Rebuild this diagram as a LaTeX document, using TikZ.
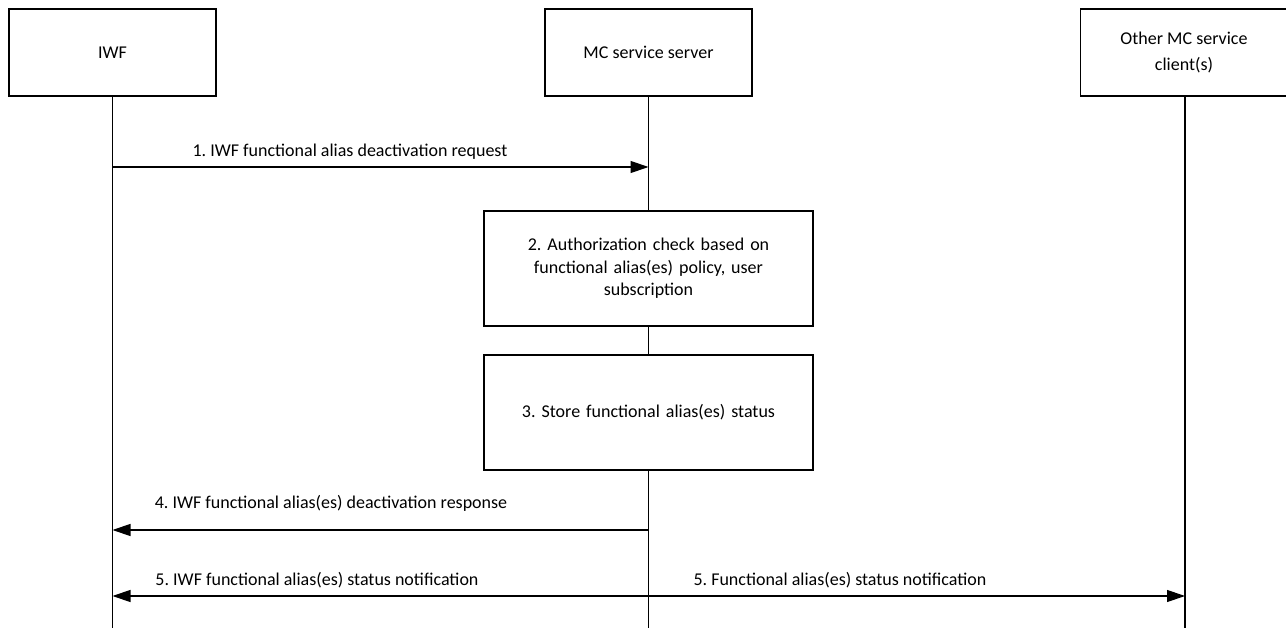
\documentclass[tikz,border=0pt]{standalone}
\usepackage{fontspec}
\setmainfont{Carlito}
\usetikzlibrary{arrows.meta}
\begin{document}
\frenchspacing
\begin{tikzpicture}[x=1pt,y=-1pt,
  every node/.style={font=\fontsize{18}{22.5}\selectfont},
  entity/.style={draw,line width=1.2pt,minimum width=207pt,minimum height=87pt,align=center,inner sep=0pt},
  actbox/.style={draw,line width=1.2pt,minimum width=329pt,minimum height=115pt,align=center,text width=310pt,inner sep=0pt},
  life/.style={line width=1.2pt},
  msg/.style={line width=1.2pt,-{Triangle[length=18pt,width=12pt]}},
  lbl/.style={inner sep=0pt,anchor=base}]
\useasboundingbox (0,0) rectangle (1286,628);
\node[entity] (iwf) at (112.5,52.5) {IWF};
\node[entity] (mcs) at (648.5,52.5) {MC service server};
\node[entity,font=\fontsize{18}{25.5}\selectfont] (oth) at (1184,52.5) {Other MC service\\client(s)};
\coordinate (iwfE) at (112.5,628);
\coordinate (mcsE) at (648.5,628);
\coordinate (othE) at (1185,628);
\node[actbox] (b2) at (648.5,268.5) {2. Authorization check based on\\functional alias(es) policy, user\\subscription};
\node[actbox] (b3) at (648.5,412.5) {3. Store functional alias(es) status};
\draw[life] (iwf.south) -- (iwfE);
\draw[life] (mcs.south) -- (b2.north);
\draw[life] (b2.south) -- (b3.north);
\draw[life] (b3.south) -- (mcsE);
\draw[life] (oth.south -| othE) -- (othE);
\coordinate (a1s) at (112.5,167);
\coordinate (a1e) at (648.5,167);
\draw[msg] (a1s) -- (a1e);
\node[lbl] (l1) at (350,157) {1. IWF functional alias deactivation request};
\coordinate (a4s) at (648.5,530);
\coordinate (a4e) at (112.5,530);
\draw[msg] (a4s) -- (a4e);
\node[lbl] (l4) at (331,508) {4. IWF functional alias(es) deactivation response};
\coordinate (a5m) at (648.5,596);
\coordinate (a5l) at (112.5,596);
\coordinate (a5r) at (1185,596);
\draw[msg] (a5m) -- (a5l);
\draw[msg] (a5m) -- (a5r);
\node[lbl] (l5a) at (317,585) {5. IWF functional alias(es) status notification};
\node[lbl] (l5b) at (840,585) {5. Functional alias(es) status notification};
\end{tikzpicture}
\end{document}
